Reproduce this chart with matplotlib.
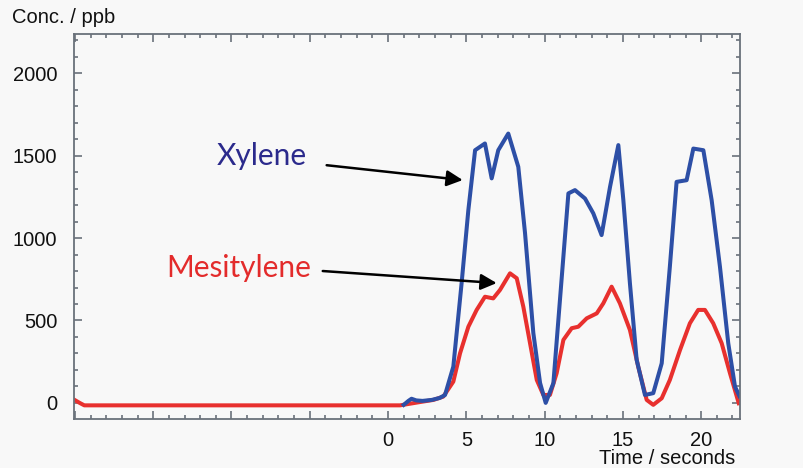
import matplotlib.pyplot as plt
from matplotlib.ticker import MultipleLocator

plt.rcParams['font.family'] = ['Liberation Sans', 'DejaVu Sans']

t_xyl = [1.0, 1.3, 1.5, 1.8, 2.2, 2.8, 3.3, 3.64, 4.17, 4.7, 5.13, 5.56, 6.19, 6.62,
         7.04, 7.68, 8.32, 8.75, 9.28, 9.71, 10.07, 10.56, 10.98, 11.52, 11.94, 12.58,
         13.11, 13.64, 14.18, 14.71, 15.03, 15.45, 15.88, 16.41, 16.94, 17.48, 18.0,
         18.43, 19.07, 19.5, 20.14, 20.67, 21.2, 21.73, 22.16, 22.45]
xyl = [-12, 12, 25, 15, 12, 18, 30, 48, 220, 727, 1170, 1533, 1574, 1362,
       1533, 1634, 1432, 1030, 424, 121, 0, 119, 624, 1271, 1291, 1240,
       1150, 1018, 1311, 1564, 1230, 725, 261, 48, 59, 240, 826,
       1341, 1351, 1543, 1533, 1230, 826, 362, 99, 40]

t_mes = [-20.06, -19.7, -19.4, 0.77, 2.04, 2.9, 3.53, 4.17, 4.6, 5.13, 5.66, 6.19,
         6.72, 7.15, 7.79, 8.22, 8.64, 9.07, 9.5, 9.92, 10.34, 10.77, 11.2, 11.73,
         12.15, 12.69, 13.33, 13.75, 14.28, 14.81, 15.45, 15.98, 16.52, 16.94,
         17.48, 18.0, 18.65, 19.28, 19.81, 20.24, 20.77, 21.31, 21.84, 22.4]
mes = [20, 0, -15, -15, 5, 18, 38, 129, 301, 462, 564, 644,
       634, 685, 786, 756, 584, 362, 139, 48, 48, 180, 382, 453,
       462, 513, 543, 604, 705, 604, 442, 220, 18, -12,
       28, 139, 321, 483, 564, 564, 483, 362, 180, -2]

x_ticks = [0, 5, 10, 15, 20]
y_ticks = [0, 500, 1000, 1500, 2000]

bg = '#f8f8f8'
frame = '#6a717a'

fig = plt.figure(figsize=(8.04, 4.68), dpi=100, facecolor=bg)
ax = fig.add_axes([0.092, 0.105, 0.828, 0.823], facecolor=bg)

ax.plot(t_mes, mes, color='#e8302e', lw=2.9)
ax.plot(t_xyl, xyl, color='#2d4fa6', lw=2.9)

ax.set_xlim(-20.06, 22.46)
ax.set_ylim(-97, 2240)

ax.xaxis.set_minor_locator(MultipleLocator(1))
ax.yaxis.set_minor_locator(MultipleLocator(100))
ax.set_xticks(list(range(-20, 25, 5)))
ax.set_xticklabels(['' if v not in x_ticks else str(v) for v in range(-20, 25, 5)])
ax.set_yticks(y_ticks)
ax.set_yticklabels([str(v) for v in y_ticks])

ax.tick_params(which='both', direction='in', top=True, right=True,
               color=frame, width=1.2)
ax.tick_params(which='major', length=6, labelsize=14.5, labelcolor='#111111')
ax.tick_params(which='minor', length=3)
ax.tick_params(axis='y', pad=12)
ax.tick_params(axis='x', pad=9)
for s in ax.spines.values():
    s.set_color(frame)
    s.set_linewidth(1.3)

fig.text(0.015, 0.962, 'Conc. / ppb', fontsize=14.5, va='center', ha='left', color='#111111')
fig.text(0.914, 0.021, 'Time / seconds', fontsize=14.5, va='center', ha='right', color='#111111')

ax.text(-8.05, 1497, 'Xylene', fontsize=21.5, color='#2b2a8c', ha='center', va='center',
        family='Lato')
ax.text(-9.55, 818, 'Mesitylene', fontsize=21.5, color='#e32b2b', ha='center', va='center',
        family='Lato')
arrow = dict(arrowstyle='-|>', color='black', lw=1.8, mutation_scale=24,
             shrinkA=0, shrinkB=0)
ax.annotate('', xy=(4.77, 1352), xytext=(-3.92, 1442), arrowprops=arrow)
ax.annotate('', xy=(6.94, 727), xytext=(-4.17, 800), arrowprops=arrow)

fig.savefig('out.png', dpi=100, facecolor=bg)
